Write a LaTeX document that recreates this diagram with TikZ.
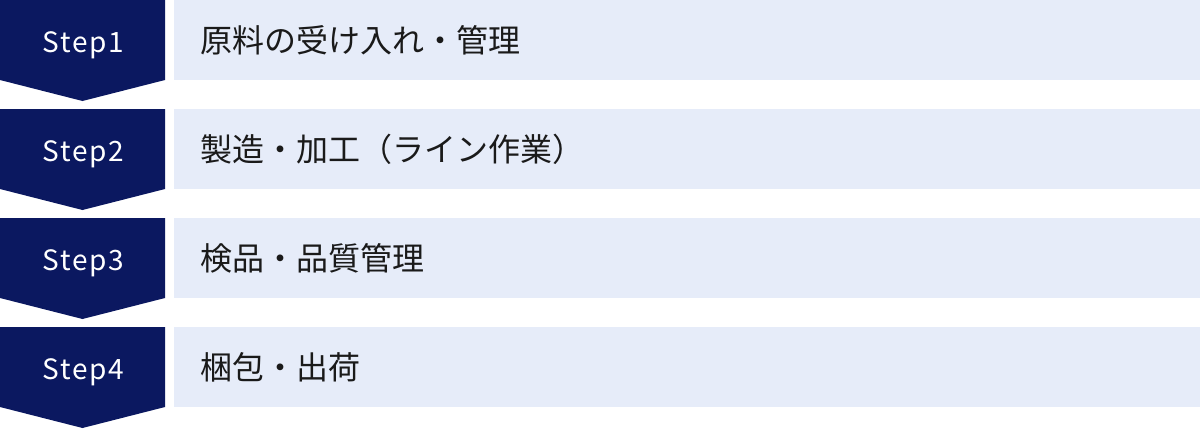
\documentclass[tikz,border=0pt]{standalone}
\usepackage{fontspec}
\setmainfont{Noto Sans}
\newfontfamily\jpfont{Noto Sans CJK JP}
\newfontfamily\stepfont{Noto Sans CJK JP}[LetterSpace=6]
\usepackage{tikz}

\definecolor{stepnavy}{RGB}{11,24,96}
\definecolor{rowblue}{RGB}{230,236,249}
\definecolor{textdark}{RGB}{26,26,26}

\tikzset{
  steplabel/.style={anchor=base, inner sep=0pt, text=white, font=\stepfont\fontsize{28}{30}\selectfont},
  rowlabel/.style={anchor=base west, inner sep=0pt, text=textdark, font=\jpfont\fontsize{32}{34}\selectfont}
}

\begin{document}
\begin{tikzpicture}[x=1pt,y=1pt,yscale=-1,xscale=1]
        \useasboundingbox (0,0) rectangle (1200,429);

        % chevrons
        \fill [stepnavy] (0,0) -- (165,0) -- (165,80) -- (82.5,101) -- (0,80) -- cycle;
        \fill [stepnavy] (0,109) -- (165,109) -- (165,189) -- (82.5,210) -- (0,189) -- cycle;
        \fill [stepnavy] (0,218) -- (165,218) -- (165,298) -- (82.5,319) -- (0,298) -- cycle;
        \fill [stepnavy] (0,327) -- (165,327) -- (165,407) -- (82.5,428) -- (0,407) -- cycle;

        % rows
        \fill [rowblue] (174,0) rectangle (1200,80);
        \fill [rowblue] (174,109) rectangle (1200,189);
        \fill [rowblue] (174,218) rectangle (1200,298);
        \fill [rowblue] (174,327) rectangle (1200,407);

        \node [steplabel] (step1) at (83.5,52) {Step1};
        \node [steplabel] (step2) at (83.5,161) {Step2};
        \node [steplabel] (step3) at (83.5,270) {Step3};
        \node [steplabel] (step4) at (83.5,379) {Step4};

        \node [rowlabel] (task1) at (200,52) {原料の受け入れ・管理};
        \node [rowlabel] (task2) at (200,161) {製造・加工（ライン作業）};
        \node [rowlabel] (task3) at (200,270) {検品・品質管理};
        \node [rowlabel] (task4) at (200,379) {梱包・出荷};
\end{tikzpicture}
\end{document}
